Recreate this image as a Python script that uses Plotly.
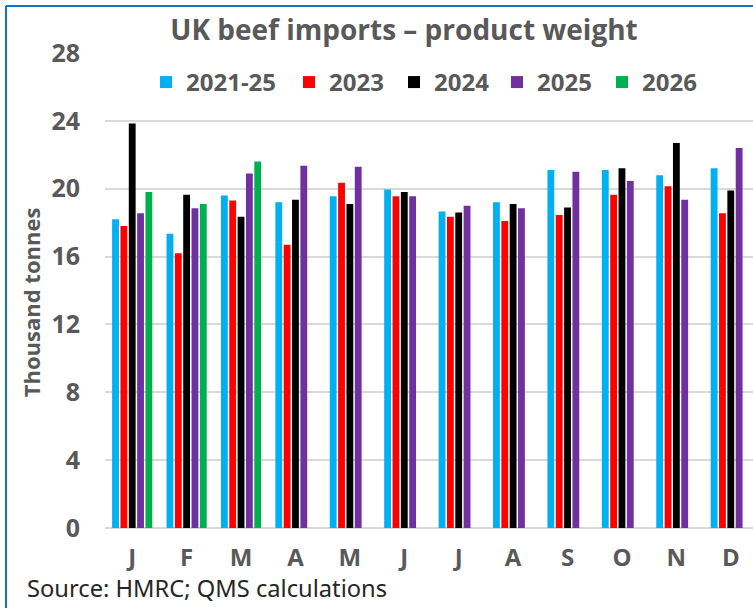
import plotly.graph_objects as go

months = ["J", "F", "M", "A", "M", "J", "J", "A", "S", "O", "N", "D"]
series_names = ["2021-25", "2023", "2024", "2025", "2026"]
avg_2021_25 = [18.2, 17.35, 19.6, 19.2, 19.55, 19.95, 18.65, 19.2, 21.1, 21.1, 20.8, 21.2]
y2023 = [17.8, 16.2, 19.3, 16.7, 20.35, 19.55, 18.35, 18.1, 18.45, 19.65, 20.15, 18.55]
y2024 = [23.85, 19.65, 18.35, 19.35, 19.1, 19.8, 18.6, 19.1, 18.9, 21.2, 22.7, 19.9]
y2025 = [18.55, 18.85, 20.9, 21.35, 21.3, 19.55, 19.0, 18.85, 21.0, 20.45, 19.35, 22.4]
y2026 = [19.8, 19.1, 21.6, None, None, None, None, None, None, None, None, None]
colors = ["#00B0F0", "#FF0000", "#000000", "#7030A0", "#00B050"]
y_ticks = [0, 4, 8, 12, 16, 20, 24, 28]

all_series = [avg_2021_25, y2023, y2024, y2025, y2026]
xpos = list(range(len(months)))

W, H = 753, 608
L, R, T, B = 105, 0, 52.5, 80
pw = W - L - R
ph = H - T - B
FONT = "Open Sans"
GREY = "#595959"

# legend square left edges (px) in the reference
legend_sq_px = [163, 306, 411, 514, 619]
legend_keys = ["legend", "legend2", "legend3", "legend4", "legend5"]

fig = go.Figure()
for name, vals, col, lk in zip(series_names, all_series, colors, legend_keys):
    fig.add_trace(go.Bar(x=xpos, y=vals, name=name, legend=lk,
                         marker=dict(color=col, line=dict(width=0))))

legend_layout = {}
for lk, sq in zip(legend_keys, legend_sq_px):
    legend_layout[lk] = dict(
        orientation="h", x=(sq - 17 - L) / pw, xanchor="left", y=1 - (82 - T) / ph, yanchor="middle",
        font=dict(size=24, color=GREY, family=FONT, weight="bold"), bgcolor="rgba(0,0,0,0)",
        itemwidth=30, borderwidth=0,
    )

fig.update_layout(
    width=W, height=H,
    margin=dict(l=L, r=R, t=T, b=B, pad=0),
    paper_bgcolor="white", plot_bgcolor="white",
    barmode="group", bargap=0.234, bargroupgap=0.18,
    font=dict(family=FONT, color=GREY),
    title=dict(text="UK beef imports – product weight", x=404 / W, xanchor="center",
               y=1 - 30 / H, yanchor="middle",
               font=dict(size=28, color=GREY, family=FONT, weight="bold")),
    showlegend=True,
    **legend_layout,
)
fig.update_xaxes(
    tickmode="array", tickvals=xpos, ticktext=months,
    range=[-0.5, len(months) - 0.5 - (758 - W) / (pw / 11.9)],
    showgrid=False, showline=False, zeroline=False, ticks="",
    tickfont=dict(size=24, color=GREY, family=FONT, weight="bold"), ticklabelstandoff=13,
)
fig.update_yaxes(
    range=[0, 28], tickmode="array", tickvals=y_ticks, ticktext=[str(v) for v in y_ticks],
    showgrid=True, gridcolor="#D9D9D9", gridwidth=1.5, zeroline=True, zerolinecolor="#D9D9D9", zerolinewidth=1.5,
    showline=False, ticks="", tickfont=dict(size=25, color=GREY, family=FONT, weight="bold"), ticklabelstandoff=24,
)
# y-axis title
fig.add_annotation(text="Thousand tonnes", xref="paper", yref="paper",
                   x=(31 - L) / pw, y=1 - (302 - T) / ph, xanchor="center", yanchor="middle",
                   textangle=-90, showarrow=False,
                   font=dict(size=22, color=GREY, family=FONT, weight="bold"))
fig.add_annotation(text="Source: HMRC; QMS calculations", xref="paper", yref="paper",
                   x=(25 - L) / pw, y=-(588 - (H - B)) / ph, xanchor="left", yanchor="middle",
                   showarrow=False, font=dict(size=23.7, color="#262626", family="Noto Sans"))
# outer frame (left and top edges visible)
fig.add_shape(type="line", xref="paper", yref="paper", x0=(6 - L) / pw, x1=(6 - L) / pw,
              y0=-(H - T) / ph - 0.01, y1=1 + (T - 5.5) / ph, line=dict(color="#1672C4", width=2))
fig.add_shape(type="line", xref="paper", yref="paper", x0=(6 - L) / pw, x1=1.01,
              y0=1 + (T - 5.5) / ph, y1=1 + (T - 5.5) / ph, line=dict(color="#1672C4", width=2))

fig.write_html("out.html", config={"displayModeBar": False},
               post_script="document.body.style.margin='0';document.body.style.overflow='hidden';")
